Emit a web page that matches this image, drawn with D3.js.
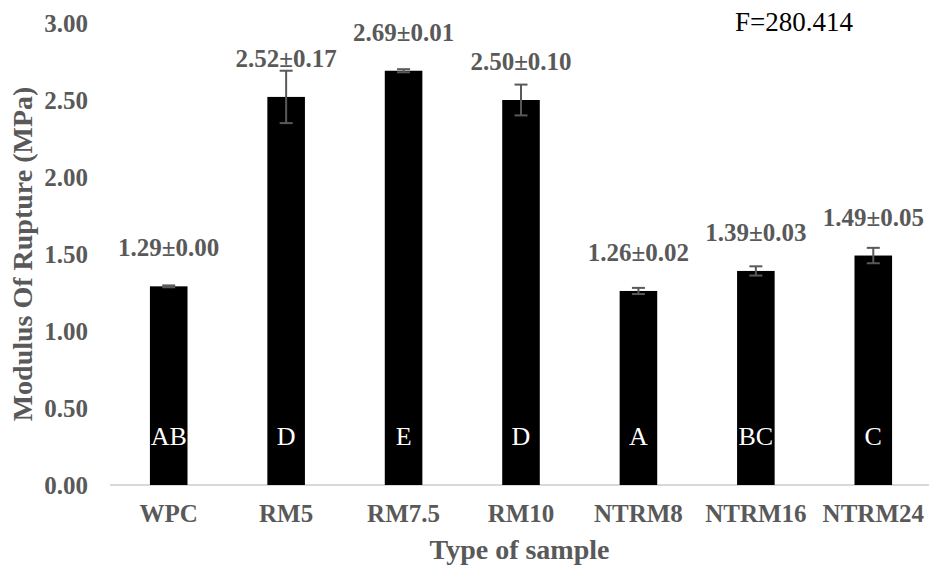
<!DOCTYPE html>
<html>
<head>
<meta charset="utf-8">
<script src="https://cdn.jsdelivr.net/npm/d3@7"></script>
<style>
  html, body { margin: 0; padding: 0; background: #fff; }
  svg { display: block; }
  svg text { font-family: "Liberation Serif", "Times New Roman", serif; }
</style>
</head>
<body>
<div id="chart"></div>
<script>
// Modulus of rupture per sample type (mean ± deviation) with group letters
const samples = ["WPC", "RM5", "RM7.5", "RM10", "NTRM8", "NTRM16", "NTRM24"];
const means = [1.29, 2.52, 2.69, 2.50, 1.26, 1.39, 1.49];
const errors = [0.00, 0.17, 0.01, 0.10, 0.02, 0.03, 0.05];
const groups = ["AB", "D", "E", "D", "A", "BC", "C"];
const yTicks = [0, 0.5, 1.0, 1.5, 2.0, 2.5, 3.0];
const fStat = "F=280.414";

const W = 929, H = 567;
const margin = { top: 23, right: 0, bottom: 82, left: 110 };
const plotRight = 932;
const grey = "#595959";
const serif = "'Liberation Serif', 'Times New Roman', serif";

const svg = d3.select("#chart").append("svg")
  .attr("width", W).attr("height", H);

const x = d3.scaleBand()
  .domain(samples)
  .range([margin.left, plotRight])
  .paddingInner(0.68)
  .paddingOuter(0.34);

const y = d3.scaleLinear()
  .domain([0, 3])
  .range([H - margin.bottom, margin.top]);

// y axis labels (no line, no ticks)
const yAxis = svg.append("g")
  .attr("transform", `translate(${margin.left},0)`)
  .call(d3.axisLeft(y).tickValues(yTicks).tickFormat(d3.format(".2f")).tickSize(0).tickPadding(22))
  .attr("font-family", serif);
yAxis.select(".domain").remove();
yAxis.selectAll("text")
  .attr("fill", grey)
  .style("font-family", serif)
  .style("font-weight", "bold")
  .style("font-size", "25px");

// x axis baseline + category labels
const xAxis = svg.append("g")
  .attr("transform", `translate(0,${y(0)})`)
  .call(d3.axisBottom(x).tickSize(0).tickPadding(19))
  .attr("font-family", serif);
xAxis.select(".domain")
  .attr("stroke", "#d9d9d9")
  .attr("stroke-width", 2)
  .attr("d", `M${margin.left},0H${W}`);
xAxis.selectAll("text")
  .attr("fill", grey)
  .style("font-family", serif)
  .style("font-weight", "bold")
  .style("font-size", "25px");

const data = samples.map((s, i) => ({ s, m: means[i], e: errors[i], g: groups[i] }));

// bars
svg.append("g").selectAll("rect")
  .data(data).join("rect")
  .attr("x", d => x(d.s))
  .attr("width", x.bandwidth())
  .attr("y", d => y(d.m))
  .attr("height", d => y(0) - y(d.m))
  .attr("fill", "#000");

// error bars
const capW = 13;
const eb = svg.append("g")
  .attr("stroke", grey)
  .attr("stroke-width", 2)
  .attr("fill", "none");
data.forEach(d => {
  const cx = x(d.s) + x.bandwidth() / 2;
  const hi = Math.max(d.e, 0.006);
  eb.append("line").attr("x1", cx).attr("x2", cx).attr("y1", y(d.m + hi)).attr("y2", y(d.m - hi));
  eb.append("line").attr("x1", cx - capW / 2).attr("x2", cx + capW / 2).attr("y1", y(d.m + hi)).attr("y2", y(d.m + hi));
  eb.append("line").attr("x1", cx - capW / 2).attr("x2", cx + capW / 2).attr("y1", y(d.m - hi)).attr("y2", y(d.m - hi));
});

// value labels above bars
svg.append("g").selectAll("text")
  .data(data).join("text")
  .attr("x", d => x(d.s) + x.bandwidth() / 2)
  .attr("y", d => y(d.m) - 30)
  .attr("text-anchor", "middle")
  .attr("fill", grey)
  .style("font-family", serif)
  .style("font-weight", "bold")
  .style("font-size", "25px")
  .text(d => `${d.m.toFixed(2)}±${d.e.toFixed(2)}`);

// group letters inside bars
svg.append("g").selectAll("text")
  .data(data).join("text")
  .attr("x", d => x(d.s) + x.bandwidth() / 2)
  .attr("y", y(0) - 40)
  .attr("text-anchor", "middle")
  .attr("fill", "#fff")
  .style("font-family", serif)
  .style("font-size", "26px")
  .text(d => d.g);

// axis titles
svg.append("text")
  .attr("transform", `translate(32,254) rotate(-90)`)
  .attr("text-anchor", "middle")
  .attr("fill", grey)
  .style("font-family", serif)
  .style("font-weight", "bold")
  .style("font-size", "28px")
  .text("Modulus Of Rupture (MPa)");

svg.append("text")
  .attr("x", (margin.left + W) / 2)
  .attr("y", 559)
  .attr("text-anchor", "middle")
  .attr("fill", grey)
  .style("font-family", serif)
  .style("font-weight", "bold")
  .style("font-size", "28px")
  .text("Type of sample");

svg.append("text")
  .attr("x", 735)
  .attr("y", 31)
  .attr("fill", "#000")
  .style("font-family", serif)
  .style("font-size", "27px")
  .text(fStat);
</script>
</body>
</html>
